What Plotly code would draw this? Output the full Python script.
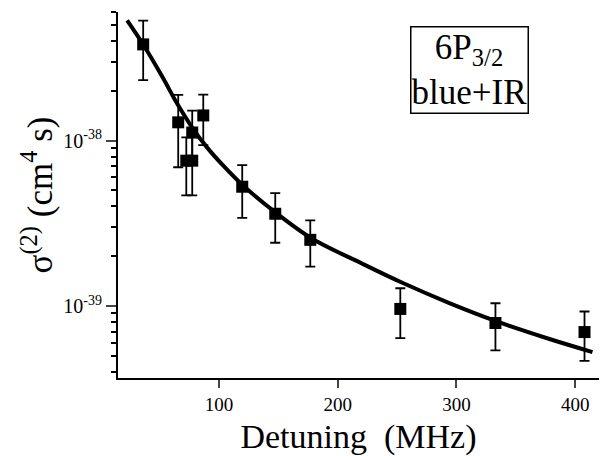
import plotly.graph_objects as go

# Measured data points
detuning = [36.2, 65.7, 72.5, 77.5, 77.5, 86.8, 119.6, 147.4, 176.9, 252.7, 332.8, 407.8]
sigma = [3.82e-38, 1.29e-38, 7.56e-39, 7.56e-39, 1.12e-38, 1.42e-38, 5.26e-39, 3.61e-39,
         2.51e-39, 9.59e-40, 7.88e-40, 6.95e-40]
sigma_err = [1.5e-38, 0.6e-38, 2.9e-39, 2.9e-39, 0.4e-38, 0.48e-38, 1.85e-39, 1.2e-39,
             0.78e-39, 3.2e-40, 2.5e-40, 2.3e-40]

# Fitted curve
fit_x = [22.7, 37.1, 52.2, 64.9, 77.5, 90.1, 102.8, 119.6, 149.1, 178.6, 220.7, 254.4,
         294.0, 332.8, 378.3, 414.5]
fit_y = [5.33e-38, 3.72e-38, 2.44e-38, 1.67e-38, 1.20e-38, 9.07e-39, 7.16e-39, 5.41e-39,
         3.61e-39, 2.55e-39, 1.80e-39, 1.38e-39, 1.04e-39, 8.11e-40, 6.31e-40, 5.26e-40]

x_ticks = [100, 200, 300, 400]
y_tickvals = [1e-39, 1e-38]
y_ticktext = ["10<sup>-39</sup>", "10<sup>-38</sup>"]
y_minor = [4e-40, 5e-40, 6e-40, 7e-40, 8e-40, 9e-40,
           2e-39, 3e-39, 4e-39, 5e-39, 6e-39, 7e-39, 8e-39, 9e-39,
           2e-38, 3e-38, 4e-38, 5e-38, 6e-38]

FONT = "Liberation Serif"

fig = go.Figure()
fig.add_trace(go.Scatter(x=fit_x, y=fit_y, mode="lines", line=dict(color="black", width=4, shape="spline"),
                         showlegend=False, hoverinfo="skip"))
fig.add_trace(go.Scatter(x=detuning, y=sigma, mode="markers",
                         marker=dict(symbol="square", size=12, color="black"),
                         error_y=dict(type="data", array=sigma_err, color="black", thickness=1.8, width=5),
                         showlegend=False))

fig.update_layout(
    width=607, height=456,
    margin=dict(l=118, r=8, t=12, b=78),
    paper_bgcolor="white", plot_bgcolor="white",
    font=dict(family=FONT, color="black"),
    xaxis=dict(range=[15, 420], tickvals=x_ticks, ticks="outside", ticklen=8, tickwidth=2,
               automargin=False,
               showline=True, linecolor="black", linewidth=2, showgrid=False, zeroline=False,
               tickfont=dict(size=19, family=FONT),
               title=dict(text="Detuning\u00a0\u00a0(MHz)", font=dict(size=34, family=FONT), standoff=12)),
    yaxis=dict(type="log", range=[-39.436, -37.222], tickvals=y_tickvals, ticktext=y_ticktext,
               ticks="outside", ticklen=10, tickwidth=2, automargin=False,
               minor=dict(tickvals=y_minor, ticks="outside", ticklen=5, tickwidth=2, tickcolor="black"),
               showline=True, linecolor="black", linewidth=2, showgrid=False, zeroline=False,
               tickfont=dict(size=20, family=FONT),
               title=dict(text="σ<sup>(2)</sup> (cm<sup>4</sup> s)", font=dict(size=35, family=FONT), standoff=0)),
    annotations=[dict(xref="paper", yref="paper", x=0.608, y=0.961, xanchor="left", yanchor="top",
                      text="6P<sub>3/2</sub><br>blue+IR", showarrow=False, align="center",
                      font=dict(size=35, family=FONT, color="black"),
                      bordercolor="black", borderwidth=1.5, borderpad=0, bgcolor="white")],
)

fig.write_html("out.html", config={"displayModeBar": False},
               post_script="document.body.style.margin='0px';")
